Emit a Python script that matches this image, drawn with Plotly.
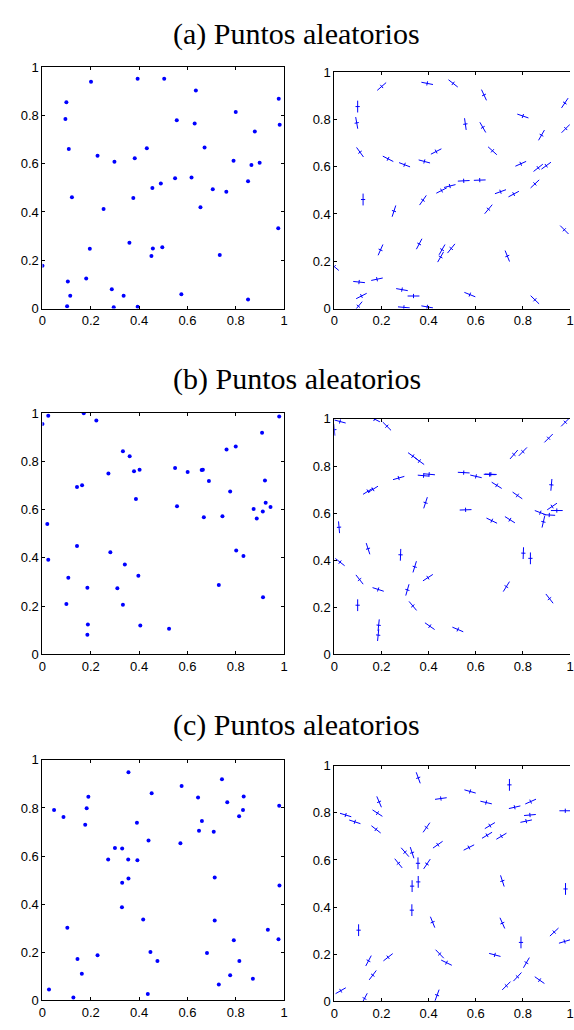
import math
import plotly.graph_objects as go

# ---------------- data ----------------
TITLES = ["(a) Puntos aleatorios", "(b) Puntos aleatorios", "(c) Puntos aleatorios"]
TICK_VALS = [0, 0.2, 0.4, 0.6, 0.8, 1]
TICK_TEXT = ["0", "0.2", "0.4", "0.6", "0.8", "1"]

XA = [0.000, 0.099, 0.095, 0.109, 0.122, 0.201, 0.228, 0.253, 0.298, 0.196,
      0.181, 0.105, 0.115, 0.102, 0.287, 0.295, 0.336, 0.360, 0.394, 0.382,
      0.376, 0.394, 0.432, 0.455, 0.451, 0.457, 0.504, 0.490, 0.496, 0.556,
      0.549, 0.575, 0.635, 0.630, 0.617, 0.671, 0.654, 0.705, 0.734, 0.761,
      0.800, 0.791, 0.879, 0.865, 0.899, 0.851, 0.851, 0.978, 0.982, 0.976]
YA = [0.177, 0.854, 0.785, 0.661, 0.461, 0.939, 0.633, 0.412, 0.608, 0.248,
      0.124, 0.112, 0.053, 0.010, 0.080, 0.005, 0.053, 0.273, 0.952, 0.622,
      0.458, 0.007, 0.664, 0.499, 0.218, 0.249, 0.952, 0.518, 0.254, 0.780,
      0.540, 0.059, 0.903, 0.766, 0.543, 0.667, 0.420, 0.494, 0.222, 0.484,
      0.814, 0.612, 0.733, 0.595, 0.604, 0.527, 0.037, 0.869, 0.761, 0.333]
ANG_A = [-40, 90, -80, -54, 90, 41, -27, 72, -21, 66,
         12, -6, 27, 50, -10, -5, 0, 62, -11, -15,
         55, -10, 27, 27, 60, 60, -38, 14, 51, -82,
         3, -22, -65, -60, 2, -42, 50, 20, -68, 28,
         -19, 24, 60, 38, 36, 43, -44, 56, 45, -45]

XB = [0.000, 0.024, 0.020, 0.024, 0.171, 0.223, 0.143, 0.164, 0.143, 0.107,
      0.099, 0.186, 0.188, 0.186, 0.273, 0.281, 0.310, 0.333, 0.361, 0.379,
      0.402, 0.387, 0.341, 0.397, 0.333, 0.405, 0.524, 0.549, 0.557, 0.601,
      0.659, 0.664, 0.689, 0.668, 0.730, 0.745, 0.762, 0.800, 0.777, 0.802,
      0.832, 0.874, 0.887, 0.909, 0.921, 0.924, 0.912, 0.944, 0.913, 0.980]
YB = [0.954, 0.989, 0.540, 0.392, 0.999, 0.969, 0.693, 0.701, 0.449, 0.318,
      0.209, 0.276, 0.124, 0.082, 0.749, 0.423, 0.274, 0.842, 0.821, 0.759,
      0.765, 0.644, 0.372, 0.326, 0.206, 0.120, 0.106, 0.772, 0.614, 0.756,
      0.764, 0.765, 0.718, 0.568, 0.288, 0.572, 0.849, 0.861, 0.675, 0.430,
      0.408, 0.602, 0.563, 0.918, 0.720, 0.628, 0.592, 0.611, 0.237, 0.986]
ANG_B = [95, -15, 95, -38, -27, -45, 32, 32, -72, -52,
         90, -18, 84, 84, 16, 88, 74, -36, -36, -5,
         -5, 72, 73, 33, -50, -35, -23, -3, 2, -13,
         -2, -2, -32, -26, 58, -32, 49, 46, -35, 88,
         90, -21, 77, 45, 85, 34, -3, 0, -52, 45]

XC = [0.027, 0.048, 0.087, 0.103, 0.128, 0.145, 0.163, 0.177, 0.183, 0.190,
      0.228, 0.272, 0.300, 0.330, 0.356, 0.355, 0.356, 0.330, 0.329, 0.391,
      0.393, 0.439, 0.452, 0.417, 0.447, 0.476, 0.436, 0.576, 0.571, 0.644,
      0.648, 0.660, 0.709, 0.743, 0.765, 0.713, 0.713, 0.681, 0.730, 0.777,
      0.792, 0.815, 0.814, 0.830, 0.833, 0.871, 0.933, 0.977, 0.981, 0.980]
YC = [0.045, 0.791, 0.762, 0.302, 0.012, 0.172, 0.111, 0.730, 0.799, 0.847,
      0.187, 0.586, 0.633, 0.631, 0.949, 0.586, 0.507, 0.489, 0.387, 0.738,
      0.583, 0.665, 0.861, 0.336, 0.201, 0.164, 0.026, 0.891, 0.653, 0.844,
      0.705, 0.746, 0.701, 0.919, 0.824, 0.511, 0.332, 0.197, 0.066, 0.104,
      0.250, 0.164, 0.765, 0.791, 0.848, 0.090, 0.294, 0.254, 0.477, 0.809]
ANG_C = [30, -17, -18, 90, 62, 62, 53, -38, -33, -67,
         38, -51, -49, -72, -70, 90, 90, 90, 90, 55,
         56, 35, 8, -68, -46, -26, 70, -16, 27, -13,
         31, 31, 31, 90, 13, -72, -66, -15, 45, 47,
         90, 60, 12, 5, 24, -35, 43, 17, 90, 0]

DATASETS = [(XA, YA, ANG_A), (XB, YB, ANG_B), (XC, YC, ANG_C)]

# ---------------- style / layout ----------------
W, H = 574, 1030
BLUE = "rgb(0,0,255)"
LONG_HALF = 0.025
SHORT_HALF = 0.009

# pixel boxes: (left, right, top, bottom)
LEFT_BOX = [(39, 284, 61, 306), (39, 284, 412, 657), (39, 284, 764, 1008)]
RIGHT_BOX = [(335, 574, 66, 306), (335, 574, 418, 657), (335, 574, 770, 1009)]
TITLE_Y = [27, 377, 729]
TITLE_X = 297


def dom_x(l, r):
    return [l / W, min(r / W, 1.0)]


def dom_y(t, b):
    return [1 - b / H, 1 - t / H]


def cross_segments(xs, ys, angs):
    lx, ly = [], []
    for x, y, a in zip(xs, ys, angs):
        t = math.radians(a)
        c, s = math.cos(t), math.sin(t)
        lx += [x - LONG_HALF * c, x + LONG_HALF * c, None,
               x + SHORT_HALF * s, x - SHORT_HALF * s, None]
        ly += [y - LONG_HALF * s, y + LONG_HALF * s, None,
               y - SHORT_HALF * c, y + SHORT_HALF * c, None]
    return lx, ly


fig = go.Figure()
tickfont = dict(family="Liberation Sans, Arial, sans-serif", size=13, color="black")

axis_common = dict(
    range=[0, 1], tickvals=TICK_VALS, ticktext=TICK_TEXT, ticks="inside",
    ticklen=3, tickwidth=1, tickcolor="black", showline=True, linecolor="black",
    linewidth=1, showgrid=False, zeroline=False, tickfont=tickfont,
    fixedrange=True,
)

layout_axes = {}
for i, (xs, ys, angs) in enumerate(DATASETS):
    n_left = 2 * i + 1
    n_right = 2 * i + 2
    xa = "x" if n_left == 1 else f"x{n_left}"
    ya = "y" if n_left == 1 else f"y{n_left}"
    # left: dots
    fig.add_trace(go.Scatter(x=xs, y=ys, mode="markers", xaxis=xa, yaxis=ya,
                             marker=dict(color=BLUE, size=4), showlegend=False,
                             hoverinfo="skip"))
    # right: oriented crosses
    lx, ly = cross_segments(xs, ys, angs)
    fig.add_trace(go.Scatter(x=lx, y=ly, mode="lines", xaxis=f"x{n_right}",
                             yaxis=f"y{n_right}", line=dict(color=BLUE, width=1),
                             showlegend=False, hoverinfo="skip"))

    l, r, t, b = LEFT_BOX[i]
    kx = "xaxis" if n_left == 1 else f"xaxis{n_left}"
    ky = "yaxis" if n_left == 1 else f"yaxis{n_left}"
    layout_axes[kx] = dict(axis_common, domain=dom_x(l, r), anchor=ya, mirror="ticks")
    layout_axes[ky] = dict(axis_common, domain=dom_y(t, b), anchor=xa, mirror="ticks")

    l, r, t, b = RIGHT_BOX[i]
    layout_axes[f"xaxis{n_right}"] = dict(axis_common, domain=dom_x(l, r),
                                          anchor=f"y{n_right}", mirror="ticks")
    layout_axes[f"yaxis{n_right}"] = dict(axis_common, domain=dom_y(t, b),
                                          anchor=f"x{n_right}", mirror=False)

annotations = []
for i, title in enumerate(TITLES):
    annotations.append(dict(
        text=title, x=TITLE_X / W, y=1 - TITLE_Y[i] / H, xref="paper", yref="paper",
        xanchor="center", yanchor="middle", showarrow=False,
        font=dict(family="Liberation Serif, Times New Roman, serif", size=30,
                  color="black"),
    ))

fig.update_layout(
    width=W, height=H, margin=dict(l=0, r=0, t=0, b=0),
    paper_bgcolor="white", plot_bgcolor="white",
    annotations=annotations, showlegend=False,
    **layout_axes,
)

fig.write_html("out.html")
